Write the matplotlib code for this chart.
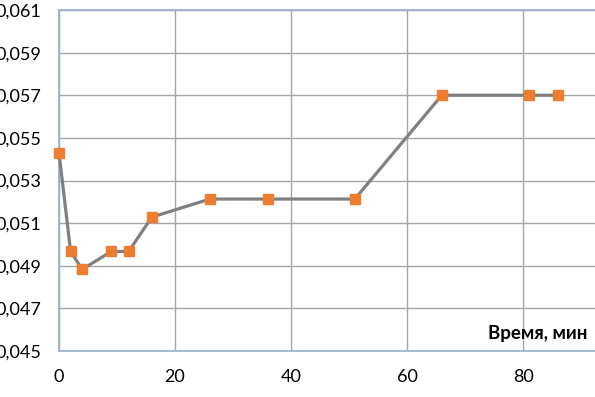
import numpy as np
import matplotlib
matplotlib.use('Agg')
import matplotlib.pyplot as plt
from matplotlib.ticker import FuncFormatter

# время, мин
time_min = [0, 2, 4, 9, 12, 16, 26, 36, 51, 66, 81, 86]
# измеренные значения
values = [0.0543, 0.04967, 0.04883, 0.04967, 0.04967, 0.05128,
          0.05213, 0.05213, 0.05213, 0.0570, 0.0570, 0.0570]

y_ticks = np.arange(0.045, 0.0611, 0.002)
x_ticks = [0, 20, 40, 60, 80]

plt.rcParams['font.family'] = ['Lato', 'DejaVu Sans']

W, H = 595, 397
fig = plt.figure(figsize=(W / 100, H / 100), dpi=100)
# область графика выходит за правый край картинки (как в обрезанном оригинале)
left, right, top, bottom = 59, 639, 10, 351
ax = fig.add_axes([left / W, 1 - bottom / H, (right - left) / W, (bottom - top) / H])

ax.plot(time_min, values, color='#808080', linewidth=2.3,
        marker='s', markersize=7.2, markerfacecolor='#ed7d31',
        markeredgecolor='#ed7d31', zorder=3, clip_on=False)

ax.set_xlim(0, 100)
ax.set_ylim(0.045, 0.061)
ax.set_xticks(x_ticks)
ax.set_yticks(y_ticks)
ax.yaxis.set_major_formatter(FuncFormatter(lambda v, p: f'{v:.3f}'.replace('.', ',')))
ax.tick_params(axis='both', length=0, labelsize=13, colors='black')
ax.tick_params(axis='y', pad=13)
ax.tick_params(axis='x', pad=13)

ax.grid(True, color='#a6a6a6', linewidth=1)
ax.set_axisbelow(True)
for s in ax.spines.values():
    s.set_color('#98b0cc')
    s.set_linewidth(1.2)

fig.text(488 / W, 1 - 333 / H, 'Время, мин', fontsize=13.5, fontweight='bold',
         ha='left', va='center')

fig.savefig('out.png', dpi=100)
